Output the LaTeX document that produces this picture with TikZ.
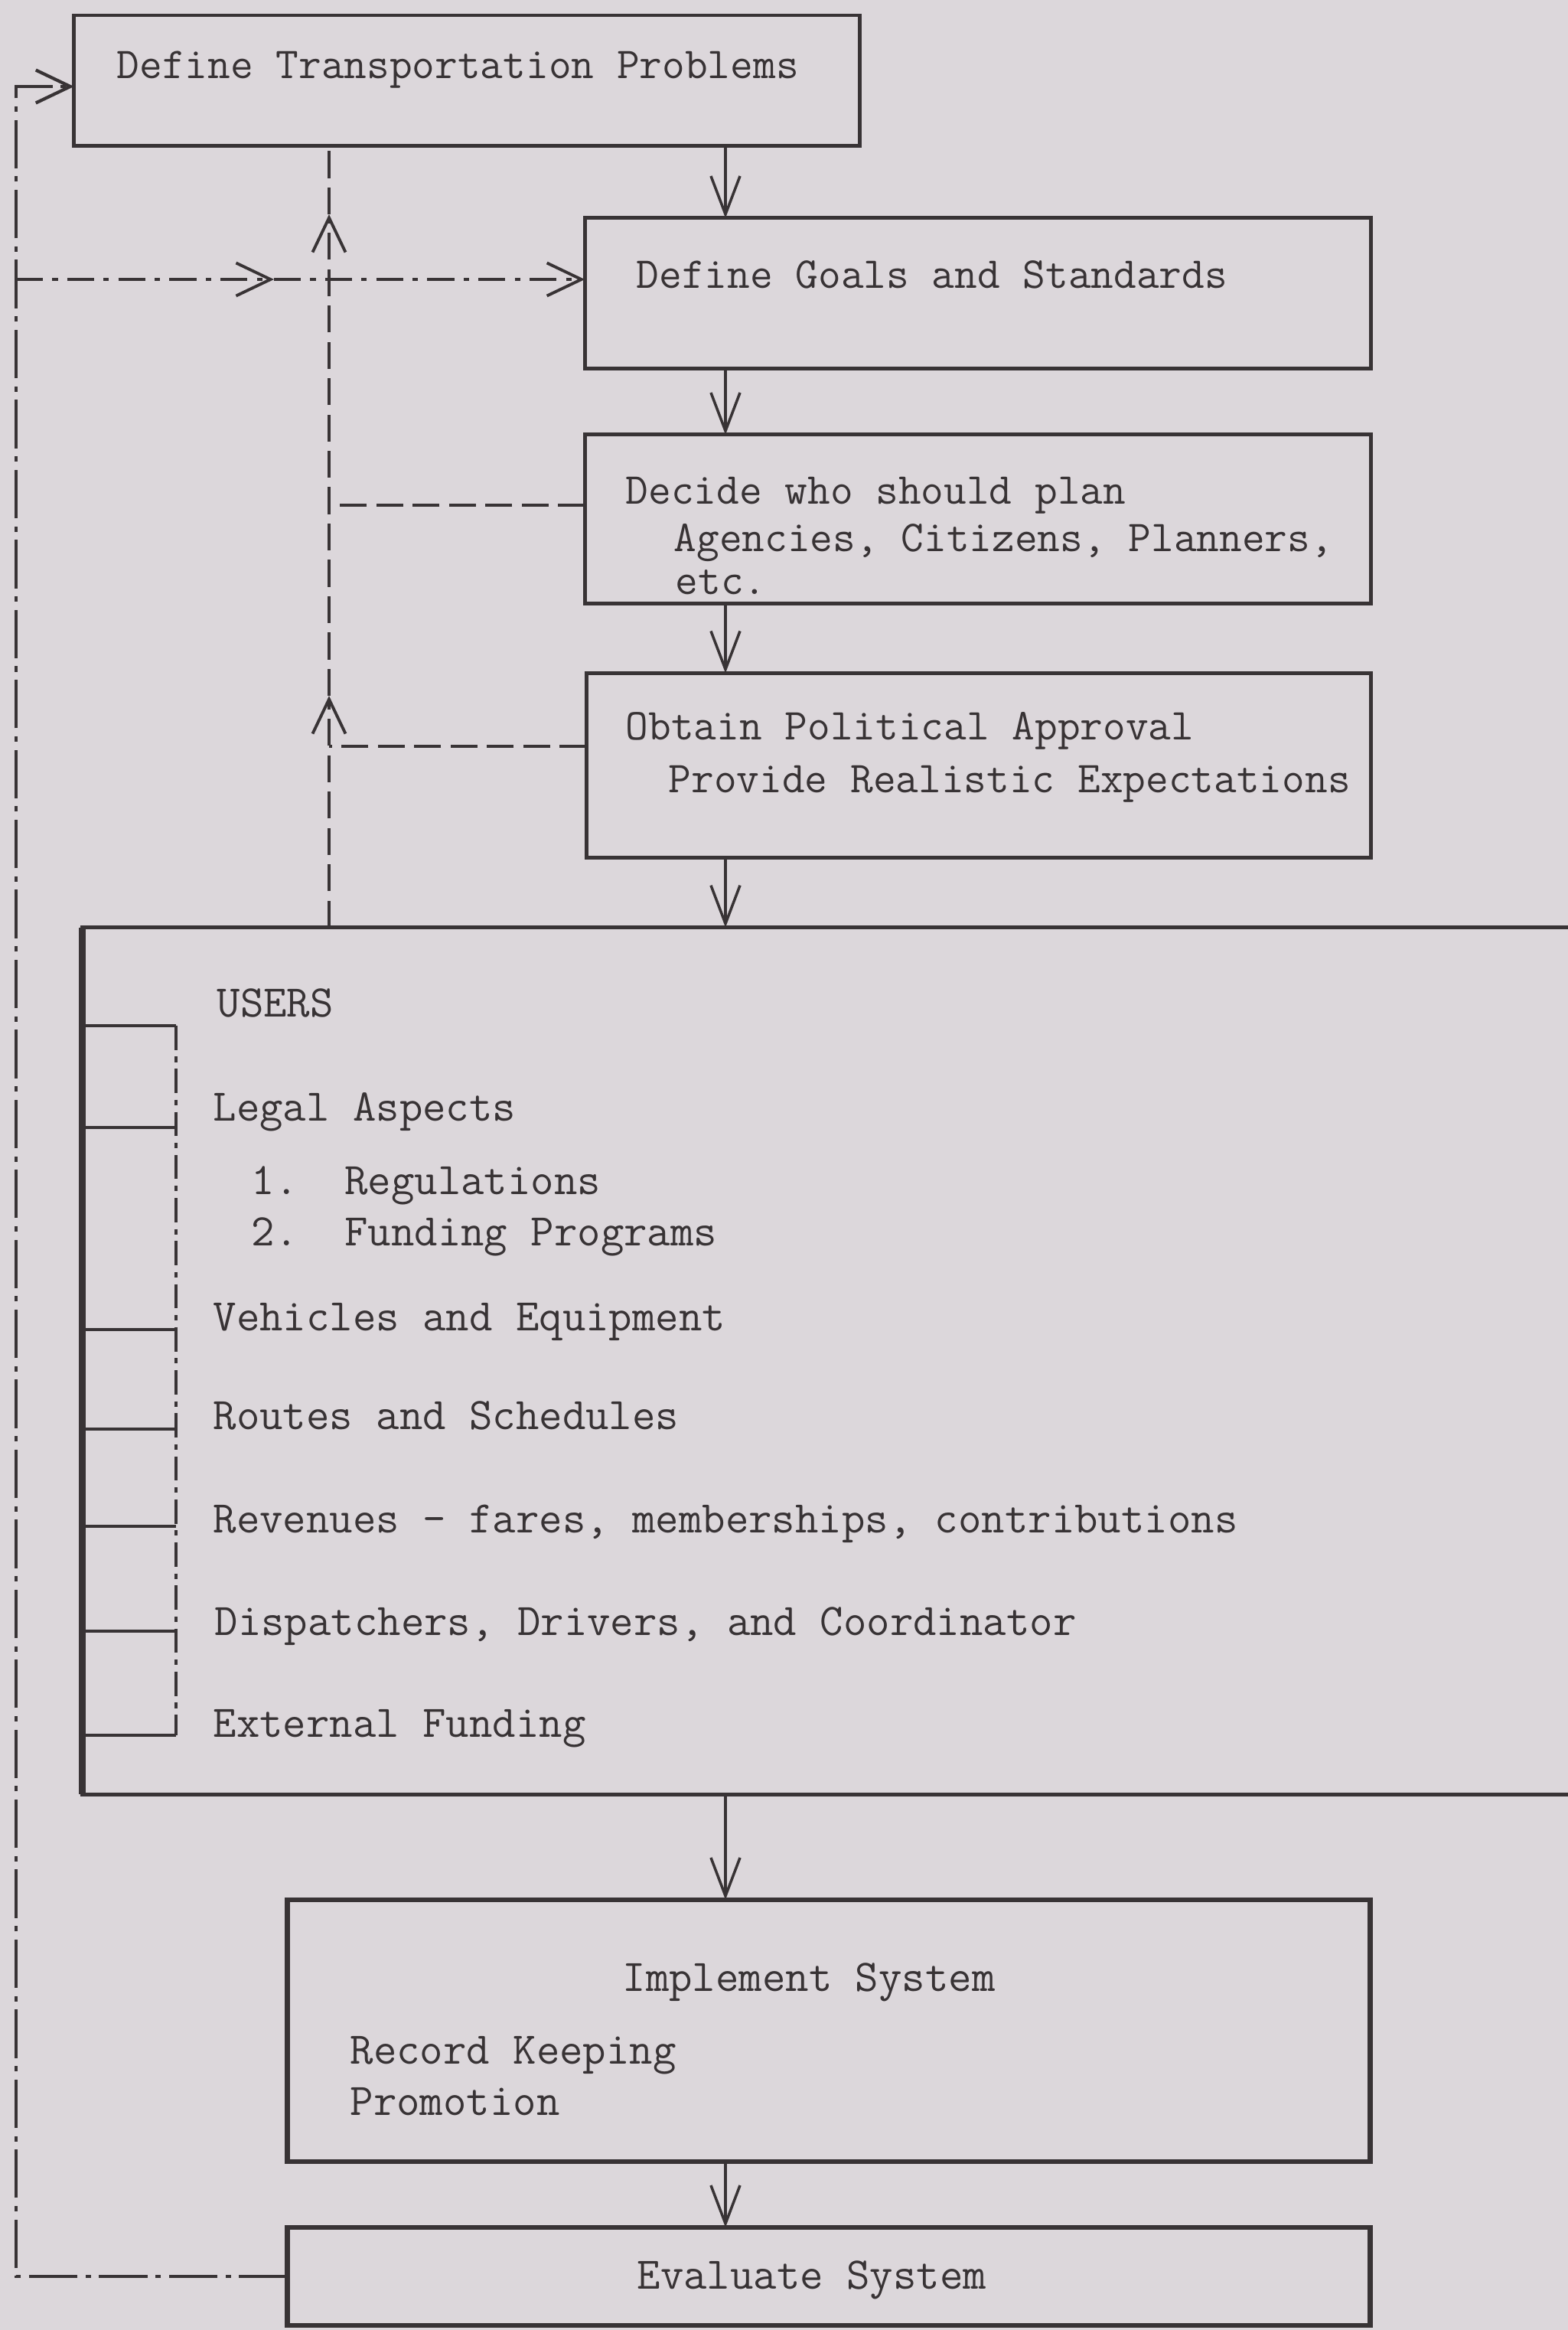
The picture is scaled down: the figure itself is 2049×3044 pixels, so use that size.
\documentclass[tikz,border=0pt]{standalone}
\usepackage{fontspec}
\usetikzlibrary{arrows.meta}
\definecolor{ink}{HTML}{383335}
\definecolor{paper}{HTML}{DCD7DB}
\tikzset{
  box/.style={draw=ink, line width=1.4pt, inner sep=0pt, outer sep=0pt},
  txt/.style={font=\ttfamily\fontsize{16.4}{19}\selectfont, text=ink, inner sep=0pt, anchor=base west},
  lowtxt/.style={txt, font=\ttfamily\fontsize{16.8}{19}\selectfont},
  flow/.style={draw=ink, line width=1pt, -{Straight Barb[length=5mm,width=3.8mm]}},
  fb/.style={draw=ink, line width=1.1pt, dash pattern=on 10pt off 3.5pt},
  fbdot/.style={draw=ink, line width=1.1pt, dash pattern=on 10pt off 3.5pt on 2pt off 3.5pt},
  fbrail/.style={draw=ink, line width=1.2pt, dash pattern=on 18pt off 3pt on 2pt off 3pt},
  fbtip/.style={-{Straight Barb[length=4.5mm,width=4.3mm]}},
}

\begin{document}
\begin{tikzpicture}[x=0.01cm, y=-0.01cm]
    \useasboundingbox (0,0) rectangle (2049,3044);
    \fill[paper] (0,0) rectangle (2049,3044);
    \clip (0,0) rectangle (2049,3044);

    % coordinates to be reused
    \coordinate (spine) at (948,0);
    \coordinate (rail) at (21,0);
    \coordinate (col) at (430,0);
    \coordinate (lad) at (230,0);
    \coordinate (feedin) at (0,113);
    \coordinate (goalsin) at (0,365);
    \coordinate (goalsmid) at (358,365);
    \coordinate (planout) at (0,660);
    \coordinate (approvout) at (0,975);
    \coordinate (colup) at (430,280);
    \coordinate (collow) at (430,909);

    % boxes
    \node[box, minimum width=10.26cm, minimum height=1.70cm] (define) at (610,105) {};
    \node[box, minimum width=10.27cm, minimum height=1.96cm] (goals) at (1278,383) {};
    \node[box, minimum width=10.27cm, minimum height=2.20cm] (planners) at (1278,678) {};
    \node[box, minimum width=10.25cm, minimum height=2.41cm] (approval) at (1279,1000) {};
    \node[box, minimum width=19.92cm, minimum height=11.32cm] (users) at (1104,1778) {};
    \node[box, line width=1.9pt, minimum width=14.14cm, minimum height=3.42cm] (implement) at (1083,2653) {};
    \node[box, line width=1.9pt, minimum width=14.14cm, minimum height=1.28cm] (evaluate) at (1083,2974) {};
    \draw[ink, line width=2.6pt] (users.north west) -- (users.south west);

    % ladder inside the users box
    \draw[ink, line width=0.9pt] (users.west |- 0,1340) -- (lad |- 0,1340);
    \draw[ink, line width=0.9pt] (users.west |- 0,1473) -- (lad |- 0,1473);
    \draw[ink, line width=0.9pt] (users.west |- 0,1737) -- (lad |- 0,1737);
    \draw[ink, line width=0.9pt] (users.west |- 0,1867) -- (lad |- 0,1867);
    \draw[ink, line width=0.9pt] (users.west |- 0,1994) -- (lad |- 0,1994);
    \draw[ink, line width=0.9pt] (users.west |- 0,2131) -- (lad |- 0,2131);
    \draw[ink, line width=0.9pt] (users.west |- 0,2267) -- (lad |- 0,2267);
    \draw[ink, line width=1.4pt, dash pattern=on 9pt off 2.5pt on 2pt off 2.5pt] (lad |- 0,1340) -- (lad |- 0,2267);

    % main flow
    \draw[flow] (define.south -| spine) -- (goals.north -| spine);
    \draw[flow] (goals.south -| spine) -- (planners.north -| spine);
    \draw[flow] (planners.south -| spine) -- (approval.north -| spine);
    \draw[flow] (approval.south -| spine) -- (users.north -| spine);
    \draw[flow] (users.south -| spine) -- (implement.north -| spine);
    \draw[flow] (implement.south -| spine) -- (evaluate.north -| spine);

    % feedback lines
    \draw[fbrail, fbtip] (evaluate.west) -- (evaluate.west -| rail) -- (rail |- feedin) -- (define.west |- feedin);
    \draw[fbdot, fbtip] (rail |- goalsin) -- (goalsmid);
    \draw[fbdot, fbtip] (goalsmid) -- (goals.west |- goalsin);
    \draw[fb, fbtip] (users.north -| col) -- (collow);
    \draw[fb, fbtip] (collow) -- (colup);
    \draw[fb] (colup) -- (define.south -| col);
    \draw[fb] (planners.west |- planout) -- (col |- planout);
    \draw[fb] (approval.west |- approvout) -- (col |- approvout);

    % add labels
    \node[txt] (tdefine) at (152,102) {Define Transportation Problems};
    \node[txt] (tgoals) at (831,376) {Define Goals and Standards};
    \node[txt] (tdecide) at (817,658) {Decide who should plan};
    \node[txt] (tagency) at (880,720) {Agencies, Citizens, Planners,};
    \node[txt] (tetc) at (882,776) {etc.};
    \node[txt] (tobtain) at (817,966) {Obtain Political Approval};
    \node[txt] (tprovide) at (873,1035) {Provide Realistic Expectations};
    \node[lowtxt] (tusers) at (283,1328) {USERS};
    \node[lowtxt] (tlegal) at (278,1464) {Legal Aspects};
    \node[lowtxt] (treg) at (328,1560) {1.~~Regulations};
    \node[lowtxt] (tfund) at (328,1627) {2.~~Funding Programs};
    \node[lowtxt] (tveh) at (278,1738) {Vehicles and Equipment};
    \node[lowtxt] (troutes) at (278,1867) {Routes and Schedules};
    \node[lowtxt] (trev) at (278,2002) {Revenues - fares, memberships, contributions};
    \node[lowtxt] (tdisp) at (280,2136) {Dispatchers, Drivers, and Coordinator};
    \node[lowtxt] (text) at (278,2269) {External Funding};
    \node[lowtxt] (timpl) at (813,2601) {Implement System};
    \node[lowtxt] (trecord) at (457,2696) {Record Keeping};
    \node[lowtxt] (tpromo) at (457,2763) {Promotion};
    \node[lowtxt] (teval) at (832,2990) {Evaluate System};
\end{tikzpicture}
\end{document}
